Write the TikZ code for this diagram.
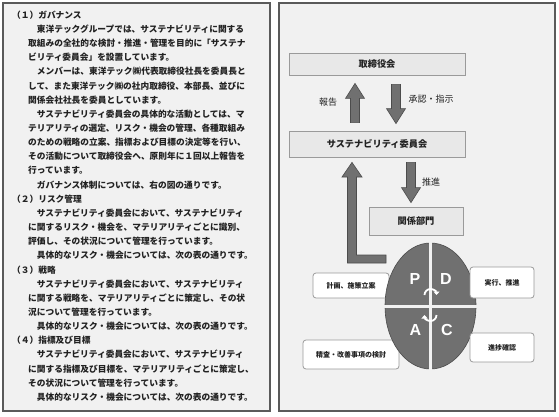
\documentclass[tikz,border=0pt]{standalone}
\usepackage{fontspec}
\newfontfamily\jpfont{Noto Sans CJK JP}
\newfontfamily\latinfont{Liberation Sans}
\usetikzlibrary{calc,arrows.meta}

\definecolor{panelbg}{HTML}{F1F1F1}
\definecolor{panelline}{HTML}{5A5A5A}
\definecolor{boxbg}{HTML}{E8E8E8}
\definecolor{boxline}{HTML}{9A9A9A}
\definecolor{fatgray}{HTML}{707070}
\definecolor{fatline}{HTML}{4C4C4C}
\definecolor{ink}{HTML}{222222}

\begin{document}
\begin{tikzpicture}[x=1pt,y=-1pt,
  panel/.style={draw=panelline,fill=panelbg,line width=1.1pt},
  para/.style={anchor=west,inner sep=0pt,text=ink,font=\jpfont\bfseries\fontsize{8.7}{10}\selectfont},
  orgbox/.style={draw=boxline,fill=boxbg,line width=0.8pt,inner sep=0pt,text=ink,font=\jpfont\bfseries\fontsize{9.2}{11}\selectfont},
  tag/.style={draw=boxline,fill=white,rounded corners=3pt,line width=0.8pt,inner sep=0pt,text=ink,font=\jpfont\bfseries\fontsize{7}{8}\selectfont},
  flowlabel/.style={inner sep=0pt,text=ink,font=\jpfont\fontsize{9}{10}\selectfont},
  letter/.style={inner sep=0pt,text=white,font=\latinfont\bfseries\fontsize{16}{16}\selectfont},
  fat/.style={draw=fatline,fill=fatgray,line width=0.6pt},
  fatarrow/.style={to path={let \p1=(\tikztostart), \p2=(\tikztotarget),
      \p3=($(\tikztotarget)!15pt!(\tikztostart)$) in
      -- (\x1-4.5pt,\y1) -- (\x1-4.5pt,\y3) -- (\x1-9.5pt,\y3) -- (\x1,\y2)
      -- (\x1+9.5pt,\y3) -- (\x1+4.5pt,\y3) -- (\x1+4.5pt,\y1) -- cycle}},
  divider/.style={draw=panelbg,line width=3pt},
  cyc/.style={draw=white,line width=1.8pt,-{Triangle[length=3.5pt,width=6pt]}}]
  \useasboundingbox (0,0) rectangle (559,417);

  \draw[panel] (3,3) rectangle (270,411);
  \draw[panel] (279,3) rectangle (555,411);

  \foreach \xpos/\txt [count=\i from 0] in {
      12/{（１）ガバナンス},
      28/{　東洋テックグループでは、サステナビリティに関する},
      28/{取組みの全社的な検討・推進・管理を目的に「サステナ},
      28/{ビリティ委員会」を設置しています。},
      28/{　メンバーは、東洋テック㈱代表取締役社長を委員長と},
      28/{して、また東洋テック㈱の社内取締役、本部長、並びに},
      28/{関係会社社長を委員としています。},
      28/{　サステナビリティ委員会の具体的な活動としては、マ},
      28/{テリアリティの選定、リスク・機会の管理、各種取組み},
      28/{のための戦略の立案、指標および目標の決定等を行い、},
      28/{その活動について取締役会へ、原則年に１回以上報告を},
      28/{行っています。},
      28/{　ガバナンス体制については、右の図の通りです。},
      12/{（２）リスク管理},
      28/{　サステナビリティ委員会において、サステナビリティ},
      28/{に関するリスク・機会を、マテリアリティごとに識別、},
      28/{評価し、その状況について管理を行っています。},
      28/{　具体的なリスク・機会については、次の表の通りです。},
      12/{（３）戦略},
      28/{　サステナビリティ委員会において、サステナビリティ},
      28/{に関する戦略を、マテリアリティごとに策定し、その状},
      28/{況について管理を行っています。},
      28/{　具体的なリスク・機会については、次の表の通りです。},
      12/{（４）指標及び目標},
      28/{　サステナビリティ委員会において、サステナビリティ},
      28/{に関する指標及び目標を、マテリアリティごとに策定し、},
      28/{その状況について管理を行っています。},
      28/{　具体的なリスク・機会については、次の表の通りです。}}
    \node[para] (line\i) at (\xpos,15+14.15*\i) {\txt};

  \node[orgbox,minimum width=176pt,minimum height=22pt] (board) at (377,64) {取締役会};
  \node[orgbox,minimum width=176pt,minimum height=26pt] (committee) at (377,144) {サステナビリティ委員会};
  \node[orgbox,minimum width=94pt,minimum height=28pt] (dept) at (416,221) {関係部門};

  \coordinate (report-a) at ([xshift=-22pt,yshift=8pt]committee.north);
  \coordinate (report-b) at ([xshift=-22pt,yshift=-8pt]board.south);
  \coordinate (order-a) at ([xshift=19pt,yshift=-9pt]board.south);
  \coordinate (order-b) at ([xshift=19pt,yshift=7pt]committee.north);
  \coordinate (drive-a) at ([xshift=34pt,yshift=-5pt]committee.south);
  \coordinate (drive-b) at ([xshift=-5pt,yshift=4pt]dept.north);
  \coordinate (loop-tip) at ([xshift=-25pt,yshift=-5pt]committee.south);

  \filldraw[fat] (report-a) to[fatarrow] (report-b);
  \filldraw[fat] (order-a) to[fatarrow] (order-b);
  \filldraw[fat] (drive-a) to[fatarrow] (drive-b);
  \filldraw[fat] (386,255) -- (356.5,255) -- (356.5,177) -- (362,177) -- (loop-tip)
    -- (342,177) -- (347.5,177) -- (347.5,263) -- (386,263) -- cycle;

  \node[flowlabel] (report) at (328,102) {報告};
  \node[flowlabel] (order) at (431,99) {承認・指示};
  \node[flowlabel] (drive) at (431,182) {推進};

  \node[tag,minimum width=76pt,minimum height=25pt] (plan) at (351,285.5) {計画、施策立案};
  \node[tag,minimum width=96pt,minimum height=29pt] (act) at (351,354.5) {精査・改善事項の検討};

  \coordinate (pdca) at (430.5,306);
  \filldraw[fat] (pdca) ellipse [x radius=45.5pt,y radius=63pt];
  \draw[divider] ([yshift=64pt]pdca) -- ([yshift=-64pt]pdca);
  \draw[divider] ([xshift=-46.5pt]pdca) -- ([xshift=46.5pt]pdca);

  \node[letter] (P) at (415,279) {P};
  \node[letter] (D) at (446,279) {D};
  \node[letter] (A) at (415.5,330) {A};
  \node[letter] (C) at (447,330) {C};

  \draw[cyc] ([xshift=-6pt,yshift=11pt]pdca) arc[start angle=180,end angle=0,radius=6pt];
  \draw[cyc] ([xshift=6pt,yshift=-9pt]pdca) arc[start angle=0,end angle=-180,radius=6pt];

  \node[tag,minimum width=64pt,minimum height=31pt] (do) at (502,282.5) {実行、推進};
  \node[tag,minimum width=64pt,minimum height=29pt] (check) at (502,347.5) {進捗確認};
\end{tikzpicture}
\end{document}
